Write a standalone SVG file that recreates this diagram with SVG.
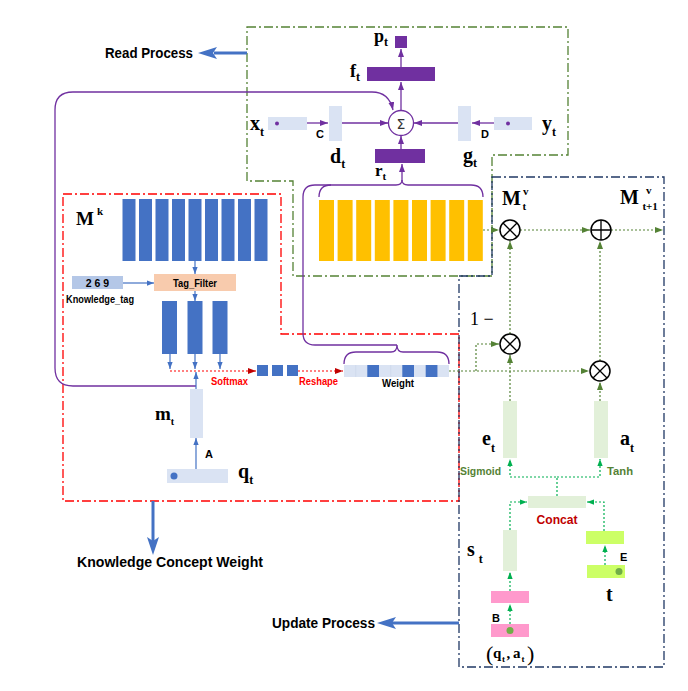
<svg xmlns="http://www.w3.org/2000/svg" width="688" height="691" viewBox="0 0 688 691">
<style>
.m{font-family:"Liberation Serif","Times New Roman",serif;font-weight:bold;font-size:20px;fill:#000}
.sub{font-size:12px}
.s{font-family:"Liberation Sans",Arial,sans-serif;font-weight:bold;fill:#000}
.pur{stroke:#7030A0;stroke-width:1.3;fill:none}
.blu{stroke:#4472C4;stroke-width:1.2;fill:none}
.red{stroke:#FF0000;stroke-width:1.2;fill:none;stroke-dasharray:2 2}
.grn{stroke:#548235;stroke-width:1.2;fill:none;stroke-dasharray:2 2}
.lgr{stroke:#00B050;stroke-width:1.2;fill:none;stroke-dasharray:2 2}
.dd{fill:none;stroke-width:1.3;stroke-dasharray:9 3 2 3}
.op{fill:#fff;stroke:#000;stroke-width:1.5}
</style>
<defs>
<marker id="ap" viewBox="0 0 8 6" refX="8" refY="3" markerWidth="8" markerHeight="6" orient="auto" markerUnits="userSpaceOnUse"><path d="M0,0 L8,3 L0,6 z" fill="#7030A0"/></marker>
<marker id="ab" viewBox="0 0 8 6" refX="8" refY="3" markerWidth="7" markerHeight="5.5" orient="auto" markerUnits="userSpaceOnUse"><path d="M0,0 L8,3 L0,6 z" fill="#4472C4"/></marker>
<marker id="ar" viewBox="0 0 8 6" refX="8" refY="3" markerWidth="8" markerHeight="6" orient="auto" markerUnits="userSpaceOnUse"><path d="M0,0 L8,3 L0,6 z" fill="#C00000"/></marker>
<marker id="ag" viewBox="0 0 8 6" refX="8" refY="3" markerWidth="8" markerHeight="6" orient="auto" markerUnits="userSpaceOnUse"><path d="M0,0 L8,3 L0,6 z" fill="#548235"/></marker>
<marker id="al" viewBox="0 0 8 6" refX="8" refY="3" markerWidth="7" markerHeight="5.5" orient="auto" markerUnits="userSpaceOnUse"><path d="M0,0 L8,3 L0,6 z" fill="#00B050"/></marker>
</defs>
<rect width="688" height="691" fill="#fff"/>

<g id="frames">
<path class="dd" stroke="#548235" d="M247,27 H568 V155 H492 V276 H293 V181 H247 Z"/>
<path class="dd" stroke="#FF0000" d="M63,194 H281 V334 H459 V501 H63 Z"/>
<path class="dd" stroke="#203864" d="M492,177 H664 V667 H459 V276 H492 Z"/>
</g>

<g id="read-process">
<line x1="247" y1="53" x2="214" y2="53" stroke="#4472C4" stroke-width="3"/>
<polygon points="198,53 217,47 213,53 217,59" fill="#4472C4"/>
<text class="s" x="105" y="58" font-size="14" textLength="88" lengthAdjust="spacingAndGlyphs">Read Process</text>
</g>
<g id="kc-weight">
<line x1="153" y1="501" x2="153" y2="541" stroke="#4472C4" stroke-width="3"/>
<polygon points="153,555 147,537 153,541 159,537" fill="#4472C4"/>
<text class="s" x="77" y="567" font-size="14" textLength="186" lengthAdjust="spacingAndGlyphs">Knowledge Concept Weight</text>
</g>
<g id="update-process">
<line x1="459" y1="623" x2="392" y2="623" stroke="#4472C4" stroke-width="3"/>
<polygon points="377,623 396,617 392,623 396,629" fill="#4472C4"/>
<text class="s" x="272" y="628" font-size="14" textLength="103" lengthAdjust="spacingAndGlyphs">Update Process</text>
</g>

<g id="connectors">
<line class="pur" x1="401" y1="67" x2="401" y2="49" marker-end="url(#ap)"/>
<line class="pur" x1="401" y1="110" x2="401" y2="82" marker-end="url(#ap)"/>
<line class="pur" x1="307" y1="123" x2="328" y2="123" marker-end="url(#ap)"/>
<line class="pur" x1="342" y1="123" x2="388" y2="123" marker-end="url(#ap)"/>
<line class="pur" x1="494" y1="123" x2="472" y2="123" marker-end="url(#ap)"/>
<line class="pur" x1="458" y1="123" x2="414" y2="123" marker-end="url(#ap)"/>
<line class="pur" x1="401" y1="149" x2="401" y2="136" marker-end="url(#ap)"/>
<line class="pur" x1="402" y1="181" x2="402" y2="164" marker-end="url(#ap)"/>
<path class="pur" d="M196,386 H73 Q55,386 55,368 V110 Q55,92 73,92 H372 Q389,92 393,110" marker-end="url(#ap)"/>
<path class="pur" d="M319,197 Q319,185 331,185 H396 Q402,185 402,180 Q402,185 408,185 H471 Q483,185 483,197"/>
<path class="pur" d="M397,345 H315 Q303,345 303,333 V197 Q303,185 315,185 H331"/>
<path class="pur" d="M344,364 Q344,352 356,352 H391 Q397,352 397,345 Q397,352 403,352 H437 Q449,352 449,364"/>
<line class="blu" x1="195" y1="261" x2="195" y2="274" marker-end="url(#ab)"/>
<line class="blu" x1="123" y1="283" x2="154" y2="283" marker-end="url(#ab)"/>
<line class="blu" x1="195" y1="291" x2="195" y2="301" marker-end="url(#ab)"/>
<line class="blu" x1="170" y1="354" x2="170" y2="369" marker-end="url(#ab)"/>
<line class="blu" x1="195" y1="354" x2="195" y2="369" marker-end="url(#ab)"/>
<line class="blu" x1="220" y1="354" x2="220" y2="369" marker-end="url(#ab)"/>
<line class="blu" x1="196" y1="389" x2="196" y2="372" marker-end="url(#ab)"/>
<line class="blu" x1="196" y1="469" x2="196" y2="438" marker-end="url(#ab)"/>
<line class="red" x1="170" y1="371" x2="256" y2="371" marker-end="url(#ar)"/>
<line class="red" x1="298" y1="371" x2="343" y2="371" marker-end="url(#ar)"/>
<line class="grn" x1="483" y1="230" x2="499" y2="230" marker-end="url(#ag)"/>
<line class="grn" x1="520" y1="230" x2="590" y2="230" marker-end="url(#ag)"/>
<line class="grn" x1="611" y1="230" x2="663" y2="230" marker-end="url(#ag)"/>
<line class="grn" x1="510" y1="334" x2="510" y2="241" marker-end="url(#ag)"/>
<line class="grn" x1="600" y1="361" x2="600" y2="241" marker-end="url(#ag)"/>
<line class="grn" x1="449" y1="371" x2="589" y2="371" marker-end="url(#ag)"/>
<path class="grn" d="M476,371 V344 H499" marker-end="url(#ag)"/>
<line class="grn" x1="510" y1="401" x2="510" y2="355" marker-end="url(#ag)"/>
<line class="grn" x1="600" y1="401" x2="600" y2="382" marker-end="url(#ag)"/>
<path class="lgr" d="M557,496 V477 H510 V459" marker-end="url(#al)"/>
<path class="lgr" d="M557,477 H600 V459" marker-end="url(#al)"/>
<path class="lgr" d="M510,530 V502 H527" marker-end="url(#al)"/>
<path class="lgr" d="M604,531 V502 H587" marker-end="url(#al)"/>
<line class="lgr" x1="510" y1="591" x2="510" y2="572" marker-end="url(#al)"/>
<line class="lgr" x1="510" y1="624" x2="510" y2="604" marker-end="url(#al)"/>
<line class="lgr" x1="605" y1="565" x2="605" y2="545" marker-end="url(#al)"/>
</g>

<g id="p_t"><rect x="395" y="36" width="12" height="12" fill="#7030A0"/>
<text class="m" x="374" y="42" style="font-size:18px">p<tspan class="sub" dy="4">t</tspan></text></g>
<g id="f_t"><rect x="367" y="67" width="68" height="14" fill="#7030A0"/>
<text class="m" x="350" y="77" style="font-size:18px">f<tspan class="sub" dy="4">t</tspan></text></g>
<g id="sum"><circle cx="401" cy="123" r="12.5" fill="#fff" stroke="#7030A0" stroke-width="1.3"/>
<text x="401" y="128.5" text-anchor="middle" font-family="'DejaVu Sans',sans-serif" font-size="14" fill="#333">Σ</text></g>
<g id="x_t"><rect x="268" y="117" width="39" height="13" fill="#DAE3F3"/><circle cx="277" cy="123.5" r="2" fill="#7030A0"/>
<text class="m" x="250" y="130">x<tspan class="sub" dy="6">t</tspan></text></g>
<g id="d_t"><rect x="329" y="106" width="13" height="35" fill="#DAE3F3"/>
<text class="m" x="330" y="163">d<tspan class="sub" dy="5">t</tspan></text>
<text class="s" x="316" y="138" font-size="11">C</text></g>
<g id="g_t"><rect x="458" y="106" width="13" height="35" fill="#DAE3F3"/>
<text class="m" x="463" y="162">g<tspan class="sub" dy="5">t</tspan></text>
<text class="s" x="481" y="138" font-size="11">D</text></g>
<g id="y_t"><rect x="494" y="117" width="38" height="13" fill="#DAE3F3"/><circle cx="508" cy="123.5" r="2" fill="#7030A0"/>
<text class="m" x="542" y="130">y<tspan class="sub" dy="6">t</tspan></text></g>
<g id="r_t"><rect x="375" y="149" width="50" height="14" fill="#7030A0"/>
<text class="m" x="375" y="176" style="font-size:17px">r<tspan dy="4" style="font-size:11px">t</tspan></text></g>
<g id="M_v">
<rect x="319" y="200" width="15" height="61" fill="#FFC000"/>
<rect x="337.6" y="200" width="15" height="61" fill="#FFC000"/>
<rect x="356.2" y="200" width="15" height="61" fill="#FFC000"/>
<rect x="374.8" y="200" width="15" height="61" fill="#FFC000"/>
<rect x="393.4" y="200" width="15" height="61" fill="#FFC000"/>
<rect x="412" y="200" width="15" height="61" fill="#FFC000"/>
<rect x="430.6" y="200" width="15" height="61" fill="#FFC000"/>
<rect x="449.2" y="200" width="15" height="61" fill="#FFC000"/>
<rect x="467.8" y="200" width="15" height="61" fill="#FFC000"/>
</g>

<g id="M_k">
<rect x="122.5" y="199" width="13" height="62" fill="#4472C4"/>
<rect x="139" y="199" width="13" height="62" fill="#4472C4"/>
<rect x="155.5" y="199" width="13" height="62" fill="#4472C4"/>
<rect x="172" y="199" width="13" height="62" fill="#4472C4"/>
<rect x="188.5" y="199" width="13" height="62" fill="#4472C4"/>
<rect x="205" y="199" width="13" height="62" fill="#4472C4"/>
<rect x="221.5" y="199" width="13" height="62" fill="#4472C4"/>
<rect x="238" y="199" width="13" height="62" fill="#4472C4"/>
<rect x="254.5" y="199" width="13" height="62" fill="#4472C4"/>
<text class="m" x="76" y="225" style="font-size:19px">M<tspan dy="-10" dx="3" style="font-size:11px">k</tspan></text>
</g>
<g id="knowledge_tag"><rect x="72" y="276" width="51" height="13" fill="#B4C7E7"/>
<text class="s" x="97.5" y="287" font-size="10.5" text-anchor="middle">2 6 9</text>
<text class="s" x="66" y="303" font-size="10.5" textLength="68" lengthAdjust="spacingAndGlyphs">Knowledge_tag</text></g>
<g id="tag_filter"><rect x="154" y="274" width="82" height="17" fill="#F8CBAD"/>
<text class="s" x="195" y="286.5" font-size="10.5" text-anchor="middle" textLength="44" lengthAdjust="spacingAndGlyphs">Tag_Filter</text></g>
<g id="filtered">
<rect x="162" y="301" width="15" height="53" fill="#4472C4"/>
<rect x="187.5" y="301" width="15" height="53" fill="#4472C4"/>
<rect x="212.5" y="301" width="15" height="53" fill="#4472C4"/>
</g>
<g id="softmax">
<rect x="257" y="365" width="11" height="11" fill="#4472C4"/>
<rect x="272" y="365" width="11" height="11" fill="#4472C4"/>
<rect x="287" y="365" width="11" height="11" fill="#4472C4"/>
<text class="s" x="211" y="385" font-size="10" style="fill:#FF0000" textLength="37" lengthAdjust="spacingAndGlyphs">Softmax</text>
<text class="s" x="299" y="385" font-size="10" style="fill:#FF0000" textLength="39" lengthAdjust="spacingAndGlyphs">Reshape</text>
</g>
<g id="weight">
<rect x="344" y="365" width="105" height="12" fill="#DAE3F3"/>
<g stroke="#C9D5EA" stroke-width="0.6">
<line x1="355.7" y1="365" x2="355.7" y2="377"/><line x1="390.7" y1="365" x2="390.7" y2="377"/><line x1="437.3" y1="365" x2="437.3" y2="377"/>
</g>
<rect x="367.3" y="365" width="11.7" height="12" fill="#4472C4"/>
<rect x="402.3" y="365" width="11.7" height="12" fill="#4472C4"/>
<rect x="425.7" y="365" width="11.7" height="12" fill="#4472C4"/>
<text class="s" x="398" y="387" font-size="10" text-anchor="middle" textLength="32" lengthAdjust="spacingAndGlyphs">Weight</text>
</g>
<g id="m_t"><rect x="190" y="389" width="13" height="49" fill="#DAE3F3"/>
<text class="m" x="155" y="420" style="font-size:19px">m<tspan dy="5" style="font-size:10px">t</tspan></text>
<text class="s" x="205" y="458" font-size="11">A</text></g>
<g id="q_t"><rect x="167" y="469" width="61" height="14" fill="#DAE3F3"/><circle cx="174" cy="476" r="3.5" fill="#4472C4"/>
<text class="m" x="238" y="478">q<tspan class="sub" dy="6">t</tspan></text></g>

<g id="otimes1"><circle class="op" cx="510" cy="230" r="10"/><path d="M503,223 L517,237 M517,223 L503,237" stroke="#000" stroke-width="1.3"/>
<text class="m" x="502" y="205">M<tspan dx="2" dy="-10" style="font-size:11px">v</tspan><tspan dx="-6" dy="15" style="font-size:11px">t</tspan></text></g>
<g id="oplus"><circle class="op" cx="601" cy="230" r="10"/><path d="M591,230 H611 M601,220 V240" stroke="#000" stroke-width="1.3"/>
<text class="m" x="620" y="204">M<tspan dx="7" dy="-10" style="font-size:11px">v</tspan><tspan dx="-9" dy="16" style="font-size:11px">t+1</tspan></text></g>
<g id="otimes2"><circle class="op" cx="510" cy="344" r="10"/><path d="M503,337 L517,351 M517,337 L503,351" stroke="#000" stroke-width="1.3"/>
<text x="470" y="325" font-family="'Liberation Serif',serif" font-size="18">1 −</text></g>
<g id="otimes3"><circle class="op" cx="600" cy="371" r="10"/><path d="M593,364 L607,378 M607,364 L593,378" stroke="#000" stroke-width="1.3"/></g>
<g id="e_t"><rect x="503" y="401" width="14" height="57" fill="#E2F0D9"/>
<text class="m" x="482" y="445">e<tspan class="sub" dy="7">t</tspan></text>
<text class="s" x="460" y="475" font-size="11" style="fill:#548235" textLength="41" lengthAdjust="spacingAndGlyphs">Sigmoid</text></g>
<g id="a_t"><rect x="594" y="401" width="14" height="57" fill="#E2F0D9"/>
<text class="m" x="620" y="445">a<tspan class="sub" dy="7">t</tspan></text>
<text class="s" x="607" y="475" font-size="11" style="fill:#548235" textLength="26" lengthAdjust="spacingAndGlyphs">Tanh</text></g>
<g id="concat"><rect x="528" y="496" width="58" height="12" fill="#E2F0D9"/>
<text class="s" x="557" y="524" font-size="12" text-anchor="middle" style="fill:#C00000" textLength="41" lengthAdjust="spacingAndGlyphs">Concat</text></g>
<g id="s_t"><rect x="503" y="530" width="14" height="41" fill="#E2F0D9"/>
<text class="m" x="467" y="556">s<tspan class="sub" dx="4" dy="7">t</tspan></text></g>
<g id="t_emb"><rect x="586" y="531" width="38" height="13" fill="#CCFF66"/>
<rect x="587" y="565" width="38" height="13" fill="#CCFF66"/><circle cx="619" cy="571.5" r="3.5" fill="#70AD47"/>
<text class="s" x="620" y="561" font-size="11">E</text>
<text class="m" x="606" y="601">t</text></g>
<g id="qa"><rect x="491" y="591" width="38" height="12" fill="#FF99CC"/>
<rect x="491" y="624" width="38" height="13" fill="#FF99CC"/><circle cx="510" cy="630.5" r="3.5" fill="#70AD47"/>
<text class="s" x="492" y="622" font-size="11">B</text>
<text class="m" style="font-size:15px"><tspan x="486" y="661" style="font-size:22px;font-weight:normal">(</tspan><tspan x="493" y="658">q</tspan><tspan x="502" y="662" style="font-size:9px">t</tspan><tspan x="506.5" y="658">,</tspan><tspan x="513" y="658">a</tspan><tspan x="521.5" y="662" style="font-size:9px">t</tspan><tspan x="527" y="661" style="font-size:22px;font-weight:normal">)</tspan></text></g>
</svg>
